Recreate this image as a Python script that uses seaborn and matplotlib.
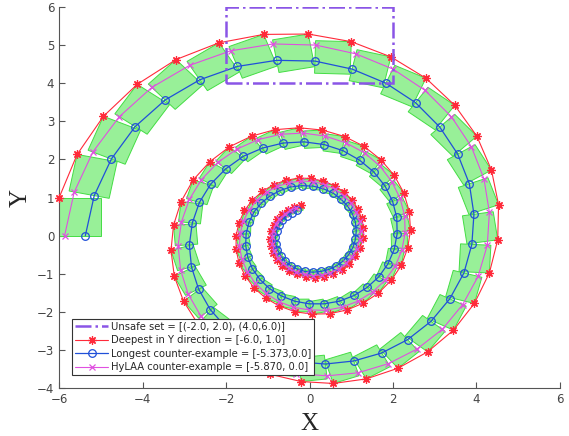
import numpy as np
import matplotlib
matplotlib.use("Agg")
import matplotlib.pyplot as plt
from matplotlib.patches import Polygon, Rectangle
from matplotlib.lines import Line2D
import seaborn as sns

sns.set_style("ticks")

# initial set and unsafe set
init_x = [-6.0, -5.0]
init_y = [0.0, 1.0]
unsafe_x = [-2.0, 2.0]
unsafe_y = [4.0, 6.0]

# longest counter-example (blue, circles)
blue_x = [-5.373, -5.16, -4.75, -4.18, -3.46, -2.63, -1.73, -0.79, 0.13, 1.02,
          1.83, 2.54, 3.12, 3.55, 3.83, 3.94, 3.89, 3.70, 3.36, 2.91,
          2.35, 1.73, 1.06, 0.38, -0.29, -0.92, -1.50, -1.99, -2.38, -2.66,
          -2.83, -2.88, -2.81, -2.64, -2.37, -2.01, -1.59, -1.12, -0.63, -0.13,
          0.35, 0.80, 1.20, 1.54, 1.81, 1.99, 2.09, 2.10, 2.03, 1.88,
          1.66, 1.38, 1.07, 0.72, 0.35, -0.01, -0.36, -0.68, -0.96, -1.19,
          -1.37, -1.48, -1.53, -1.52, -1.45, -1.33, -1.16, -0.95, -0.71, -0.45,
          -0.18, 0.08, 0.33, 0.56, 0.75, 0.91, 1.03, 1.10, 1.12, 1.10,
          1.04, 0.94, 0.80, 0.64, 0.46, 0.27, 0.08, -0.11, -0.29, -0.45,
          -0.59, -0.69, -0.77, -0.81, -0.82, -0.79, -0.74, -0.66, -0.55, -0.43,
          -0.30]
blue_y = [0.00, 1.05, 2.01, 2.86, 3.56, 4.09, 4.44, 4.60, 4.58, 4.37,
          4.00, 3.49, 2.85, 2.14, 1.36, 0.56, -0.23, -0.98, -1.66, -2.25,
          -2.73, -3.08, -3.29, -3.37, -3.31, -3.13, -2.82, -2.42, -1.94, -1.40,
          -0.82, -0.24, 0.33, 0.87, 1.35, 1.75, 2.08, 2.30, 2.43, 2.46,
          2.39, 2.23, 1.98, 1.67, 1.30, 0.90, 0.48, 0.05, -0.36, -0.74,
          -1.08, -1.36, -1.57, -1.72, -1.79, -1.79, -1.72, -1.58, -1.39, -1.15,
          -0.87, -0.57, -0.26, 0.05, 0.35, 0.62, 0.85, 1.04, 1.18, 1.28,
          1.31, 1.30, 1.23, 1.12, 0.96, 0.78, 0.57, 0.35, 0.12, -0.10,
          -0.31, -0.50, -0.67, -0.80, -0.89, -0.94, -0.96, -0.94, -0.88, -0.79,
          -0.67, -0.53, -0.37, -0.21, -0.04, 0.12, 0.27, 0.40, 0.52, 0.60,
          0.66]

# HyLAA counter-example (magenta, x)
mag_x = [-5.87, -5.64, -5.19, -4.56, -3.78, -2.87, -1.89, -0.87, 0.15, 1.11,
         2.00, 2.77, 3.40, 3.88, 4.18, 4.31, 4.26, 4.04, 3.67, 3.18,
         2.57, 1.89, 1.16, 0.42, -0.32, -1.01, -1.64, -2.17, -2.60, -2.91,
         -3.09, -3.15, -3.07, -2.88, -2.59, -2.20, -1.74, -1.23, -0.69, -0.15,
         0.38, 0.88, 1.32, 1.69, 1.97, 2.17, 2.28, 2.29, 2.21, 2.05,
         1.81, 1.51, 1.16, 0.78, 0.39, -0.01, -0.39, -0.74, -1.05, -1.30,
         -1.49, -1.62, -1.68, -1.66, -1.59, -1.45, -1.26, -1.03, -0.77, -0.49,
         -0.20, 0.09, 0.36, 0.61, 0.82, 1.00, 1.12, 1.20, 1.23, 1.20,
         1.13, 1.02, 0.88, 0.70, 0.50, 0.30, 0.08, -0.12, -0.32, -0.49,
         -0.64, -0.76, -0.84, -0.89, -0.89, -0.87, -0.81, -0.72, -0.60, -0.47,
         -0.32]
mag_y = [0.00, 1.14, 2.20, 3.12, 3.89, 4.47, 4.85, 5.03, 5.00, 4.77,
         4.37, 3.81, 3.12, 2.33, 1.49, 0.61, -0.25, -1.07, -1.81, -2.46,
         -2.98, -3.36, -3.60, -3.68, -3.62, -3.41, -3.08, -2.64, -2.12, -1.53,
         -0.90, -0.26, 0.36, 0.95, 1.47, 1.92, 2.27, 2.52, 2.66, 2.69,
         2.61, 2.43, 2.17, 1.82, 1.42, 0.98, 0.52, 0.06, -0.39, -0.81,
         -1.17, -1.48, -1.72, -1.88, -1.96, -1.95, -1.88, -1.73, -1.51, -1.25,
         -0.95, -0.62, -0.28, 0.06, 0.38, 0.67, 0.93, 1.14, 1.29, 1.39,
         1.43, 1.42, 1.34, 1.22, 1.05, 0.85, 0.62, 0.38, 0.13, -0.11,
         -0.34, -0.55, -0.73, -0.87, -0.97, -1.03, -1.05, -1.02, -0.96, -0.86,
         -0.73, -0.58, -0.41, -0.23, -0.04, 0.13, 0.30, 0.44, 0.56, 0.66,
         0.73]

# deepest in Y direction (red, asterisks)
red_x = [-6.00, -5.57, -4.94, -4.13, -3.20, -2.17, -1.10, -0.03, 1.00, 1.95,
         2.79, 3.48, 4.01, 4.36, 4.53, 4.51, 4.31, 3.95, 3.45, 2.83,
         2.12, 1.36, 0.57, -0.20, -0.94, -1.61, -2.20, -2.67, -3.02, -3.24,
         -3.32, -3.26, -3.08, -2.79, -2.39, -1.92, -1.39, -0.83, -0.25, 0.31,
         0.84, 1.31, 1.71, 2.03, 2.26, 2.39, 2.42, 2.35, 2.20, 1.96,
         1.65, 1.29, 0.90, 0.48, 0.06, -0.34, -0.72, -1.05, -1.33, -1.54,
         -1.69, -1.76, -1.76, -1.69, -1.56, -1.37, -1.13, -0.86, -0.57, -0.26,
         0.04, 0.33, 0.60, 0.83, 1.02, 1.16, 1.25, 1.29, 1.28, 1.21,
         1.10, 0.95, 0.77, 0.57, 0.35, 0.13, -0.09, -0.30, -0.49, -0.65,
         -0.78, -0.87, -0.93, -0.94, -0.92, -0.86, -0.78, -0.66, -0.52, -0.37,
         -0.21]
red_y = [1.00, 2.13, 3.13, 3.97, 4.62, 5.06, 5.28, 5.29, 5.09, 4.69,
         4.13, 3.42, 2.61, 1.72, 0.81, -0.11, -0.98, -1.78, -2.48, -3.05,
         -3.48, -3.76, -3.88, -3.83, -3.64, -3.32, -2.87, -2.33, -1.72, -1.07,
         -0.39, 0.27, 0.89, 1.46, 1.94, 2.33, 2.61, 2.78, 2.83, 2.77,
         2.60, 2.34, 1.99, 1.58, 1.12, 0.63, 0.14, -0.33, -0.78, -1.17,
         -1.51, -1.77, -1.95, -2.05, -2.06, -2.00, -1.85, -1.64, -1.37, -1.06,
         -0.72, -0.36, 0.00, 0.34, 0.66, 0.93, 1.16, 1.34, 1.45, 1.51,
         1.50, 1.43, 1.31, 1.14, 0.94, 0.70, 0.45, 0.19, -0.07, -0.32,
         -0.54, -0.74, -0.89, -1.01, -1.08, -1.10, -1.09, -1.02, -0.93, -0.79,
         -0.64, -0.46, -0.27, -0.08, 0.11, 0.28, 0.44, 0.57, 0.68, 0.75,
         0.80]

labels = ["Unsafe set = [(-2.0, 2.0), (4.0,6.0)]",
          "Deepest in Y direction = [-6.0, 1.0]",
          "Longest counter-example = [-5.373,0.0]",
          "HyLAA counter-example = [-5.870, 0.0]"]

c_red = "#ff2a3a"
c_blue = "#2050d8"
c_mag = "#e050e0"
c_unsafe = "#8a55e6"

fig, ax = plt.subplots(figsize=(5.69, 4.36), dpi=100)
fig.subplots_adjust(left=0.104, right=0.984, bottom=0.110, top=0.984)

# reach set boxes: image of the initial box, placed from the red/blue points of each step
b = np.array(blue_x) + 1j * np.array(blue_y)
r = np.array(red_x) + 1j * np.array(red_y)
scale = (r - b) / (r[0] - b[0])
corners = np.array([init_x[0] + 1j * init_y[0], init_x[1] + 1j * init_y[0],
                    init_x[1] + 1j * init_y[1], init_x[0] + 1j * init_y[1]])
for k in range(len(b)):
    pts = b[k] + scale[k] * (corners - b[0])
    ax.add_patch(Polygon(np.column_stack([pts.real, pts.imag]), closed=True,
                         facecolor="#98f098", edgecolor="#44dd44", lw=0.7, zorder=1))

ax.add_patch(Rectangle((unsafe_x[0], unsafe_y[0]), unsafe_x[1] - unsafe_x[0],
                       unsafe_y[1] - unsafe_y[0], fill=False, ec=c_unsafe,
                       lw=1.8, ls="-.", zorder=5))

sns.lineplot(x=red_x, y=red_y, sort=False, estimator=None, ax=ax, color=c_red,
             lw=0.8, marker=(8, 2, 0), markersize=6, markeredgecolor=c_red,
             markeredgewidth=0.9, zorder=3, clip_on=False)
sns.lineplot(x=blue_x, y=blue_y, sort=False, estimator=None, ax=ax, color=c_blue,
             lw=0.9, marker="o", markersize=5.5, markerfacecolor="none",
             markeredgecolor=c_blue, markeredgewidth=0.9, zorder=4)
sns.lineplot(x=mag_x, y=mag_y, sort=False, estimator=None, ax=ax, color=c_mag,
             lw=0.8, marker="x", markersize=4, markeredgecolor=c_mag,
             markeredgewidth=0.9, zorder=4)

ax.set_xlim(-6, 6)
ax.set_ylim(-4, 6)
ax.set_xticks(range(-6, 7, 2))
ax.set_yticks(range(-4, 7))
sns.despine(ax=ax)
for s in ["left", "bottom"]:
    ax.spines[s].set_color("#555555")
    ax.spines[s].set_linewidth(0.8)
ax.tick_params(direction="in", length=4, width=0.8, color="#555555",
               labelsize=8.5, labelcolor="#444444")
ax.set_xlabel("X", family="Liberation Serif", fontsize=18, labelpad=5)
ax.set_ylabel("Y", family="Liberation Serif", fontsize=18, labelpad=4)

handles = [Line2D([], [], color=c_unsafe, lw=1.8, ls="-."),
           Line2D([], [], color=c_red, lw=0.8, marker=(8, 2, 0), ms=6, mew=0.9),
           Line2D([], [], color=c_blue, lw=0.9, marker="o", ms=5.5, mfc="none", mew=0.9),
           Line2D([], [], color=c_mag, lw=0.8, marker="x", ms=4, mew=0.9)]
leg = ax.legend(handles, labels, loc="lower left", bbox_to_anchor=(0.026, 0.034),
                borderaxespad=0, fontsize=7.2, handlelength=3.3, handletextpad=0.25,
                labelspacing=0.35, borderpad=0.3, fancybox=False, framealpha=1,
                edgecolor="#333333")
leg.get_frame().set_linewidth(0.8)
leg.set_zorder(10)

fig.savefig("out.png", dpi=100)
